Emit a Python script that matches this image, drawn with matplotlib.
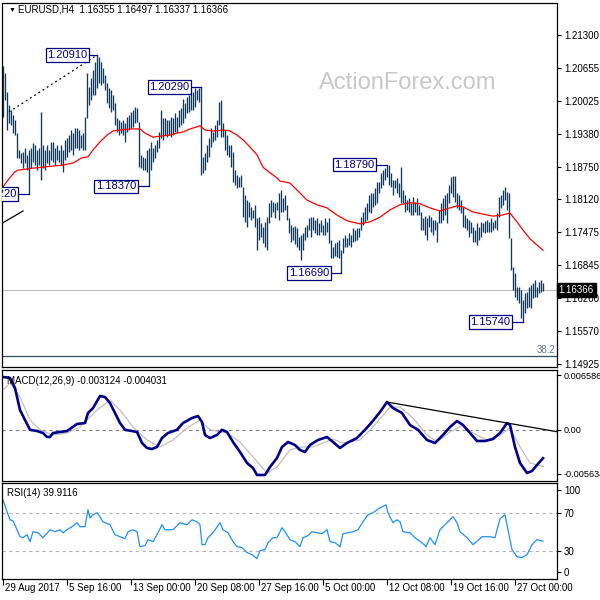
import matplotlib
matplotlib.use("Agg")
import matplotlib.pyplot as plt
import matplotlib.transforms as mtransforms

plt.rcParams['font.family'] = ['Liberation Sans', 'DejaVu Sans']

# ---- price bars (H4), index 0 = 29 Aug 2017 00:00 ----
highs = [
    1.2070, 1.2056, 1.2020, 1.1994, 1.1985, 1.1975, 1.1965, 1.1940, 1.1907, 1.1901,
    1.1903, 1.1911, 1.1898, 1.1907, 1.1911, 1.1921, 1.1917, 1.1907, 1.1911, 1.1981,
    1.1917, 1.1907, 1.1917, 1.1907, 1.1923, 1.1923, 1.1911, 1.1917, 1.1907, 1.1917,
    1.1907, 1.1927, 1.1930, 1.1936, 1.1946, 1.1940, 1.1950, 1.1950, 1.1946, 1.1936,
    1.1940, 1.1971, 1.2056, 1.2029, 1.2047, 1.2062, 1.2078, 1.2091, 1.2087, 1.2078,
    1.2066, 1.2052, 1.2037, 1.2027, 1.2023, 1.2014, 1.1998, 1.1969, 1.1965, 1.1961,
    1.1965, 1.1960, 1.1971, 1.1975, 1.1981, 1.1985, 1.1990, 1.1989, 1.1961, 1.1898,
    1.1894, 1.1892, 1.1907, 1.1911, 1.1923, 1.1911, 1.1917, 1.1927, 1.1942, 1.1985,
    1.1969, 1.1969, 1.1965, 1.1965, 1.1971, 1.1969, 1.1979, 1.1971, 1.1985, 1.1989,
    1.2006, 1.1998, 1.2010, 1.2014, 1.2018, 1.2020, 1.2027, 1.2023, 1.2027, 1.2029,
    1.1894, 1.1901, 1.1917, 1.1930, 1.1950, 1.1942, 1.1956, 1.1965, 1.2000, 1.2004,
    1.1960, 1.1946, 1.1936, 1.1917, 1.1917, 1.1903, 1.1868, 1.1859, 1.1855, 1.1859,
    1.1836, 1.1820, 1.1810, 1.1806, 1.1797, 1.1791, 1.1801, 1.1775, 1.1777, 1.1766,
    1.1758, 1.1768, 1.1777, 1.1805, 1.1810, 1.1806, 1.1805, 1.1806, 1.1824, 1.1830,
    1.1814, 1.1820, 1.1801, 1.1775, 1.1762, 1.1758, 1.1760, 1.1756, 1.1739, 1.1742,
    1.1746, 1.1758, 1.1762, 1.1775, 1.1777, 1.1777, 1.1772, 1.1775, 1.1766, 1.1772,
    1.1762, 1.1775, 1.1768, 1.1775, 1.1733, 1.1719, 1.1727, 1.1729, 1.1733, 1.1713,
    1.1737, 1.1742, 1.1737, 1.1746, 1.1742, 1.1756, 1.1752, 1.1756, 1.1756, 1.1777,
    1.1787, 1.1797, 1.1805, 1.1820, 1.1824, 1.1824, 1.1834, 1.1845, 1.1845, 1.1863,
    1.1868, 1.1872, 1.1879, 1.1878, 1.1863, 1.1849, 1.1849, 1.1853, 1.1843, 1.1874,
    1.1830, 1.1820, 1.1810, 1.1814, 1.1805, 1.1816, 1.1806, 1.1814, 1.1801, 1.1787,
    1.1775, 1.1779, 1.1775, 1.1781, 1.1777, 1.1772, 1.1772, 1.1768, 1.1791, 1.1805,
    1.1814, 1.1820, 1.1824, 1.1839, 1.1855, 1.1857, 1.1857, 1.1824, 1.1820, 1.1810,
    1.1797, 1.1781, 1.1775, 1.1772, 1.1768, 1.1758, 1.1752, 1.1766, 1.1758, 1.1768,
    1.1766, 1.1770, 1.1772, 1.1768, 1.1775, 1.1768, 1.1772, 1.1785, 1.1816, 1.1820,
    1.1830, 1.1836, 1.1826, 1.1824, 1.1737, 1.1681, 1.1669, 1.1642, 1.1642, 1.1636,
    1.1617, 1.1630, 1.1632, 1.1642, 1.1646, 1.1650, 1.1655, 1.1642, 1.1651, 1.1655, 1.16497,
]
lows = [
    1.1971, 1.2004, 1.1946, 1.1960, 1.1956, 1.1940, 1.1936, 1.1892, 1.1892, 1.1882,
    1.1872, 1.1882, 1.1868, 1.1822, 1.1872, 1.1884, 1.1878, 1.1868, 1.1878, 1.1849,
    1.1872, 1.1868, 1.1882, 1.1878, 1.1888, 1.1884, 1.1878, 1.1888, 1.1884, 1.1878,
    1.1865, 1.1888, 1.1894, 1.1903, 1.1907, 1.1898, 1.1911, 1.1911, 1.1907, 1.1911,
    1.1907, 1.1907, 1.1969, 1.1994, 1.2004, 1.2014, 1.2014, 1.2027, 1.2037, 1.2033,
    1.2037, 1.2023, 1.1998, 1.1989, 1.1981, 1.1985, 1.1956, 1.1942, 1.1936, 1.1940,
    1.1936, 1.1923, 1.1942, 1.1946, 1.1950, 1.1952, 1.1960, 1.1961, 1.1874, 1.1872,
    1.1868, 1.1868, 1.1865, 1.1837, 1.1868, 1.1884, 1.1892, 1.1903, 1.1911, 1.1930,
    1.1927, 1.1936, 1.1932, 1.1936, 1.1932, 1.1936, 1.1942, 1.1940, 1.1952, 1.1956,
    1.1960, 1.1969, 1.1979, 1.1981, 1.1985, 1.1985, 1.1990, 1.2004, 1.2000, 1.1859,
    1.1863, 1.1868, 1.1884, 1.1894, 1.1913, 1.1923, 1.1927, 1.1932, 1.1956, 1.1932,
    1.1932, 1.1907, 1.1898, 1.1894, 1.1874, 1.1845, 1.1839, 1.1834, 1.1836, 1.1836,
    1.1777, 1.1768, 1.1758, 1.1777, 1.1772, 1.1775, 1.1758, 1.1713, 1.1733, 1.1739,
    1.1727, 1.1719, 1.1713, 1.1766, 1.1777, 1.1787, 1.1775, 1.1791, 1.1772, 1.1787,
    1.1787, 1.1791, 1.1772, 1.1746, 1.1729, 1.1733, 1.1725, 1.1719, 1.1713, 1.1694,
    1.1713, 1.1733, 1.1739, 1.1752, 1.1739, 1.1752, 1.1746, 1.1742, 1.1742, 1.1748,
    1.1742, 1.1742, 1.1748, 1.1727, 1.1698, 1.1698, 1.1702, 1.1700, 1.1698, 1.1669,
    1.1708, 1.1719, 1.1719, 1.1723, 1.1719, 1.1729, 1.1731, 1.1733, 1.1739, 1.1752,
    1.1762, 1.1768, 1.1772, 1.1787, 1.1785, 1.1797, 1.1801, 1.1805, 1.1824, 1.1834,
    1.1839, 1.1849, 1.1855, 1.1839, 1.1836, 1.1820, 1.1834, 1.1824, 1.1816, 1.1805,
    1.1805, 1.1787, 1.1791, 1.1787, 1.1781, 1.1781, 1.1787, 1.1781, 1.1781, 1.1752,
    1.1752, 1.1742, 1.1733, 1.1758, 1.1748, 1.1742, 1.1752, 1.1729, 1.1766, 1.1766,
    1.1772, 1.1781, 1.1766, 1.1805, 1.1824, 1.1816, 1.1806, 1.1795, 1.1791, 1.1785,
    1.1758, 1.1756, 1.1752, 1.1739, 1.1746, 1.1729, 1.1729, 1.1723, 1.1733, 1.1739,
    1.1748, 1.1746, 1.1748, 1.1748, 1.1748, 1.1752, 1.1756, 1.1752, 1.1777, 1.1795,
    1.1801, 1.1810, 1.1791, 1.1737, 1.1675, 1.1636, 1.1622, 1.1617, 1.1611, 1.1582,
    1.1574, 1.1591, 1.1601, 1.1603, 1.1601, 1.1620, 1.1622, 1.1622, 1.1630, 1.1632, 1.16337,
]
bar_idx = list(range(len(highs)))

# moving average (red)
ma_idx = [0, 2.5, 6, 7.5, 11, 15, 20, 25, 30, 35, 39.5, 42.5, 45, 48.5, 52, 55, 58.5, 63.5,
          68.5, 71, 75, 78.5, 83.5, 87, 90, 93.5, 97, 98.5, 101, 105, 110, 113.5, 117, 120,
          123.5, 127, 130, 133.5, 137, 138.5, 143.5, 148.5, 152, 157, 162, 167, 172, 178.5,
          183.5, 188.5, 193.5, 198.5, 203.5, 208.5, 213.5, 218.5, 223.5, 227, 230, 235, 240,
          245, 249.5, 253.5, 257, 260, 263.5, 267, 270]
ma_val = [1.1836, 1.1849, 1.1865, 1.1868, 1.1870, 1.1872, 1.1874, 1.1876, 1.1878, 1.1882,
          1.1892, 1.1894, 1.1907, 1.1923, 1.1936, 1.1944, 1.1946, 1.1948, 1.1948, 1.1940,
          1.1932, 1.1934, 1.1936, 1.1940, 1.1942, 1.1948, 1.1952, 1.1954, 1.1946, 1.1944,
          1.1946, 1.1944, 1.1936, 1.1927, 1.1913, 1.1898, 1.1874, 1.1863, 1.1853, 1.1847,
          1.1843, 1.1824, 1.1810, 1.1801, 1.1795, 1.1781, 1.1770, 1.1764, 1.1768, 1.1777,
          1.1791, 1.1801, 1.1805, 1.1803, 1.1795, 1.1789, 1.1795, 1.1799, 1.1797, 1.1787,
          1.1783, 1.1779, 1.1781, 1.1785, 1.1768, 1.1752, 1.1735, 1.1723, 1.1713]

# MACD(12,26,9)
macd_idx = [0, 3.5, 6, 8.5, 11, 13.5, 17, 20, 22, 23.5, 25, 32, 37, 41, 42.5, 45, 48.5, 51,
            53.5, 56, 58.5, 61, 64.5, 67, 69.5, 72, 74.5, 77, 79.5, 82.5, 87, 90, 94.5, 97.5,
            99.5, 101, 103.5, 107, 109.5, 112, 115, 118.5, 122, 125, 127, 131, 133.5, 137,
            139.5, 142.5, 146, 148.5, 151, 153.5, 157.5, 162, 165, 168.5, 172, 177, 181,
            184.5, 188.5, 192, 195, 199.5, 203.5, 207.5, 212, 216, 220, 223.5, 227, 230,
            233.5, 237, 241, 245, 248.5, 252, 253.5, 256, 258.5, 262, 264.5, 267, 270]
macd_val = [0.00582, 0.00571, 0.00460, 0.00218, 0.00108, 0.0, -0.00013, -0.00035, -0.00079,
            -0.00079, -0.00035, -0.00013, 0.00064, 0.00075, 0.00185, 0.00240, 0.00372, 0.00361,
            0.00295, 0.00185, 0.00075, 0.0, -0.00013, -0.00024, -0.00145, -0.00200, -0.00211,
            -0.00189, -0.00090, -0.00035, 0.0, 0.00075, 0.00130, 0.00152, 0.00086, -0.00057,
            -0.00090, -0.00057, 0.0, -0.00024, -0.00134, -0.00244, -0.00365, -0.00420,
            -0.00497, -0.00497, -0.00409, -0.00310, -0.00189, -0.00134, -0.00167, -0.00222,
            -0.00244, -0.00167, -0.00112, -0.00079, -0.00134, -0.00200, -0.00145, -0.00090,
            0.0, 0.00086, 0.00196, 0.00306, 0.00240, 0.00185, 0.00053, 0.0, -0.00112,
            -0.00145, -0.00057, 0.00031, 0.00097, 0.00053, -0.00035, -0.00123, -0.00123,
            -0.00101, -0.00035, 0.00075, 0.00053, -0.00189, -0.00365, -0.00475, -0.00453,
            -0.00387, -0.003124]
sig_idx = [0, 3.5, 8.5, 13.5, 18.5, 25, 32, 38.5, 47, 53.5, 58.5, 65, 72, 78.5, 85, 92, 98.5,
           103.5, 112, 118.5, 125, 132, 137, 143.5, 148.5, 155, 165, 170, 178.5, 185, 193.5,
           198.5, 205, 212, 217, 223.5, 230, 235, 242, 248.5, 253.5, 258.5, 263.5, 270]
sig_val = [0.00438, 0.00515, 0.00361, 0.00108, 0.0, -0.00057, -0.00035, 0.00031, 0.00218,
           0.00328, 0.00218, 0.00031, -0.00112, -0.00189, -0.00112, 0.00020, 0.00108, 0.0,
           -0.00035, -0.00134, -0.00299, -0.00475, -0.00409, -0.00222, -0.00189, -0.00189,
           -0.00101, -0.00145, -0.00112, 0.00031, 0.00251, 0.00251, 0.00130, -0.00057,
           -0.00134, -0.00024, 0.00053, -0.00035, -0.00112, -0.00057, 0.00020, -0.00189,
           -0.00365, -0.004031]

# RSI(14)
rsi_idx = [0, 2, 3.5, 5, 7, 8.5, 10, 12, 13.5, 15, 17.5, 20, 23.5, 26, 28.5, 30, 32, 34.5, 37,
           38.5, 41, 42.5, 43.5, 45, 47, 48.5, 50, 53.5, 56, 58.5, 61, 62.5, 65, 67, 68.5, 71,
           72.5, 75, 77.5, 79.5, 81, 85, 88.5, 92, 94.5, 97, 98.5, 99.5, 101, 102.5, 105, 108.5,
           110, 112.5, 115, 117, 119.5, 122, 124.5, 127, 128.5, 131, 132.5, 135, 137, 139.5,
           141, 143.5, 146, 148.5, 150, 152.5, 154.5, 157, 159.5, 162, 163.5, 166, 168.5, 170,
           172.5, 175, 177.5, 180, 182.5, 185, 188.5, 191.5, 192.5, 195, 197, 198.5, 200, 203.5,
           206, 209.5, 211.5, 213.5, 216, 218.5, 222, 225, 227, 228.5, 232, 235, 239.5, 243.5,
           246, 248.5, 251, 252.5, 254.5, 257, 259.5, 262, 264.5, 267, 270]
rsi_val = [83.7, 71.1, 62.6, 61.6, 52.1, 44.7, 43.7, 46.8, 39.5, 50.0, 48.9, 43.7, 52.1, 50.0,
           52.1, 48.9, 52.1, 55.3, 59.5, 55.3, 55.3, 73.2, 64.7, 67.9, 70.0, 65.8, 60.5, 57.4,
           46.8, 44.7, 42.6, 50.0, 52.1, 50.0, 34.2, 35.3, 41.6, 39.5, 48.9, 57.4, 52.1, 52.1,
           59.5, 57.4, 62.6, 60.5, 57.4, 36.3, 36.3, 43.7, 48.9, 59.5, 52.1, 48.9, 39.5, 34.2,
           33.2, 27.9, 25.8, 21.6, 30.0, 31.1, 38.4, 43.7, 43.7, 54.2, 50.0, 41.6, 39.5, 34.2,
           43.7, 45.8, 50.0, 48.9, 47.9, 52.1, 39.5, 38.4, 34.2, 47.9, 48.9, 50.0, 52.1, 60.5,
           67.9, 70.0, 75.3, 78.4, 70.0, 59.5, 62.6, 60.5, 50.0, 48.9, 43.7, 38.4, 34.2, 43.7,
           36.3, 52.1, 59.5, 65.8, 59.5, 50.0, 43.7, 36.3, 44.7, 44.7, 43.7, 63.7, 67.9, 52.1,
           31.1, 23.7, 22.6, 25.8, 36.3, 41.6, 39.9116]

price_ticks = [1.21300, 1.20655, 1.20025, 1.19380, 1.18750, 1.18120, 1.17475, 1.16845,
               1.16200, 1.15570, 1.14925]
# swing labels: (text, box right edge idx, bar idx, price)
swing_labels = [("1.20910", 43.0, 47, 1.2091), ("1.20290", 94.0, 99, 1.2029),
                ("1.18370", 67.5, 73, 1.1837), ("1.18220", 7.5, 13, 1.1822),
                ("1.18790", 186.5, 192, 1.1879), ("1.16690", 164.0, 169, 1.1669),
                ("1.15740", 254.5, 260, 1.1574)]
date_pos = [0, 32, 64, 96, 128, 160, 192, 224, 256]
date_labels = ['29 Aug 2017', '5 Sep 16:00', '13 Sep 00:00', '20 Sep 08:00', '27 Sep 16:00',
               '5 Oct 00:00', '12 Oct 08:00', '19 Oct 16:00', '27 Oct 00:00']
last_price = 1.16366

fig = plt.figure(figsize=(6, 6), dpi=100)
ax = fig.add_axes([2/600, 1-367/600, 555/600, 364/600])
ax_m = fig.add_axes([2/600, 1-481/600, 555/600, 111/600])
ax_r = fig.add_axes([2/600, 1-579/600, 555/600, 96/600])

for a in (ax, ax_m, ax_r):
    a.set_xlim(-0.5, 277)
    a.set_xticks([])
    a.yaxis.tick_right()
    a.tick_params(axis='y', length=3, width=0.8, labelsize=7, pad=2)
    for s in a.spines.values():
        s.set_linewidth(0.9)

# ---- price panel ----
ax.set_ylim(1.14867, 1.2192)
ax.set_yticks(price_ticks)
ax.set_yticklabels(['%.5f' % p for p in price_ticks])
ax.text(0.7315, 0.78, 'ActionForex.com', transform=ax.transAxes, fontsize=17,
        color='#c8c8c8', ha='center', va='center')
ax.axhline(last_price, color='#c0c0c0', lw=0.9)
ax.axhline(1.1508, color='#2f4f5f', lw=0.9)
ax.text(276, 1.1520, '38.2', fontsize=7, color='#5f7585', ha='right', va='center')
ax.vlines(bar_idx, lows, highs, color='#12385a', lw=0.95)
ax.plot(ma_idx, ma_val, color='red', lw=0.9)
ax.plot([3, 47], [1.1981, 1.2091], color='black', lw=0.9, ls=(0, (1.5, 2.5)))
ax.plot([-1, 10], [1.1764, 1.1789], color='black', lw=0.9)
for txt, xb, xi, p in swing_labels:
    ax.plot([xb, xi], [p, p], color='#000080', lw=0.9)
    ax.text(xb - 0.8, p, txt, fontsize=8, color='#000080', ha='right', va='center',
            clip_on=True,
            bbox=dict(boxstyle='square,pad=0.15', fc='white', ec='#000080', lw=0.9))
ax.text(1.003, last_price, '%.5f' % last_price, transform=ax.get_yaxis_transform(),
        fontsize=7, color='white', ha='left', va='center', clip_on=False,
        bbox=dict(boxstyle='square,pad=0.2', fc='black', ec='black'))

# ---- MACD panel ----
ax_m.set_ylim(-0.005634, 0.006586)
ax_m.set_yticks([0.00603, 0.0, -0.00486])
ax_m.set_yticklabels(['0.006586', '0.00', '-0.005634'])
ax_m.tick_params(axis='y', labelsize=6.6, pad=1.5)
ax_m.axhline(0, color='#808080', lw=0.8, ls=(0, (3, 3)))
ax_m.plot(sig_idx, sig_val, color='#c0c0c0', lw=0.9)
ax_m.plot(macd_idx, macd_val, color='#00008b', lw=1.9)
ax_m.plot([192, 277], [0.00306, -0.00021], color='black', lw=0.9)
ax_m.text(0.009, 0.9, 'MACD(12,26,9) -0.003124 -0.004031', transform=ax_m.transAxes,
          fontsize=7, ha='left', va='center')

# ---- RSI panel ----
ax_r.set_ylim(0, 101.5)
ax_r.set_yticks([94.2, 70, 30, 7.9])
ax_r.set_yticklabels(['100', '70', '30', '0'])
ax_r.axhline(70, color='#b4b4b4', lw=0.8, ls=(0, (3, 3)))
ax_r.axhline(30, color='#b4b4b4', lw=0.8, ls=(0, (3, 3)))
ax_r.plot(rsi_idx, rsi_val, color='#1e90ff', lw=0.9)
ax_r.text(0.009, 0.9, 'RSI(14) 39.9116', transform=ax_r.transAxes, fontsize=7,
          ha='left', va='center')

ax_r.set_xticks(date_pos)
ax_r.set_xticklabels([])
ax_r.tick_params(axis='x', length=4, width=0.8, direction='out')
tr = mtransforms.blended_transform_factory(ax_r.transData, ax_r.transAxes)
for pos, lab in zip(date_pos, date_labels):
    ax_r.text(pos + 0.8, -0.095, lab, transform=tr, fontsize=7, ha='left', va='center')

fig.text(9/600, 1 - 10/600, '\u25bc', fontsize=5, ha='left', va='center')
fig.text(18/600, 1 - 10/600, 'EURUSD,H4  1.16355 1.16497 1.16337 1.16366', fontsize=7,
         ha='left', va='center')

fig.savefig('out.png', dpi=100)
